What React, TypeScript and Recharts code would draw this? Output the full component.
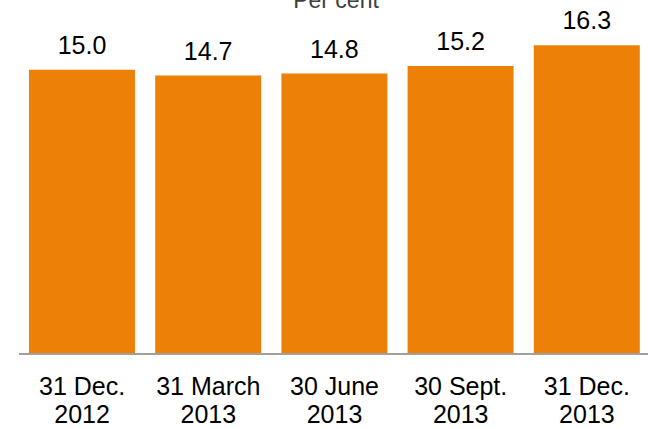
import { BarChart, Bar, XAxis, YAxis, LabelList } from 'recharts'

const CATEGORIES = ['31 Dec.|2012', '31 March|2013', '30 June|2013', '30 Sept.|2013', '31 Dec.|2013']
const VALUES = [15.0, 14.7, 14.8, 15.2, 16.3]
const UNIT_LABEL = 'Per cent'

const FONT = 'Liberation Sans, Arial, sans-serif'

const data = CATEGORIES.map((c, i) => ({ cat: c, value: VALUES[i] }))

const CategoryTick = ({ x, y, payload }: any) => {
  const lines = String(payload.value).split('|')
  return (
    <text x={x} y={y} textAnchor="middle" fontSize={25} fill="#000" fontFamily={FONT}>
      {lines.map((l, i) => (
        <tspan key={i} x={x} dy={i === 0 ? 33 : 28}>
          {l}
        </tspan>
      ))}
    </text>
  )
}

const App = () => {
  return (
    <div style={{ position: 'absolute', left: 0, top: 0, width: 648, height: 429, background: '#fff', overflow: 'hidden' }}>
      <svg width={648} height={20} style={{ position: 'absolute', left: 0, top: 0 }}>
        <text x={336} y={8} textAnchor="middle" fontSize={23} fill="#404040" fontFamily={FONT}>
          {UNIT_LABEL}
        </text>
      </svg>
      <BarChart
        width={648}
        height={429}
        data={data}
        margin={{ top: 13, right: -2, left: 19, bottom: 0 }}
        barCategoryGap={10}
      >
        <XAxis
          dataKey="cat"
          tick={<CategoryTick />}
          tickLine={false}
          axisLine={{ stroke: '#a0a0a0', strokeWidth: 2 }}
          height={75}
          interval={0}
        />
        <YAxis hide domain={[0, 18]} />
        <Bar dataKey="value" fill="#ED8006" isAnimationActive={false}>
          <LabelList
            dataKey="value"
            position="top"
            offset={16}
            formatter={(v: any) => Number(v).toFixed(1)}
            style={{ fontSize: 25, fill: '#000', fontFamily: FONT }}
          />
        </Bar>
      </BarChart>
    </div>
  )
}

export default App
